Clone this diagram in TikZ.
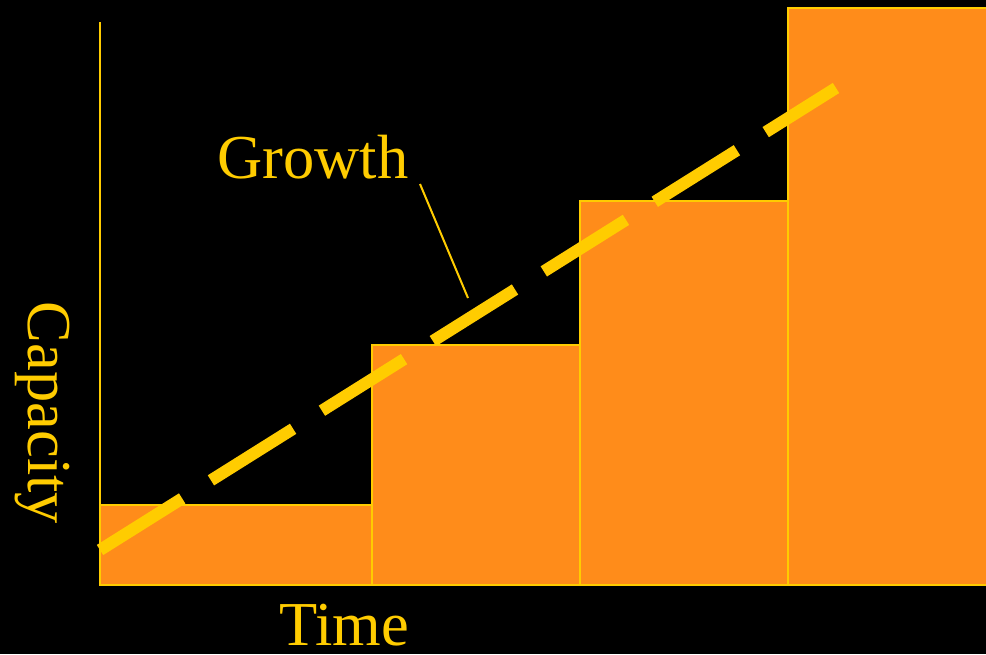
\documentclass[tikz,border=0pt]{standalone}
\usepackage{fontspec}
\setmainfont{Liberation Serif}
\usepackage{xcolor}
\definecolor{barorange}{HTML}{FF8C1A}
\definecolor{lineyellow}{HTML}{FFCC00}
\newcommand\axisx{100}
\newcommand\axisy{585}
\newcommand\capfont{\fontsize{62.5}{70}\selectfont}

\tikzset{
  capbar/.style={fill=barorange,draw=lineyellow,line width=2.2pt},
  capaxis/.style={draw=lineyellow,line width=2.2pt},
  captext/.style={text=lineyellow,font=\capfont,inner sep=0pt},
  growline/.style={draw=lineyellow,line width=12pt,dash pattern=on 97pt off 34pt}
}

\begin{document}
\begin{tikzpicture}[x=1pt,y=-1pt]
    \fill[black] (0,0) rectangle (986,654);
    \useasboundingbox (0,0) rectangle (986,654);

    % capacity steps
    \draw[capbar] (\axisx,505) rectangle (372,\axisy);
    \draw[capbar] (372,345) rectangle (580,\axisy);
    \draw[capbar] (580,201) rectangle (788,\axisy);
    \draw[capbar] (788,8) rectangle (990,\axisy);

    % axes
    \draw[capaxis] (\axisx,22) -- (\axisx,\axisy) -- (986,\axisy);

    % demand growth
    \coordinate (gstart) at (\axisx,550);
    \coordinate (gend) at (836,88);
    \draw[growline] (gstart) -- (gend);

    \node[captext] (growth) at (313,157) {Growth};
    \coordinate (gtip) at (468,298);
    \draw[lineyellow,line width=2pt] (420,184) -- (gtip);

    \node[captext] (time) at (344,625) {Time};
    \node[captext,rotate=-90] (capacity) at (42,413) {Capacity};
\end{tikzpicture}
\end{document}
